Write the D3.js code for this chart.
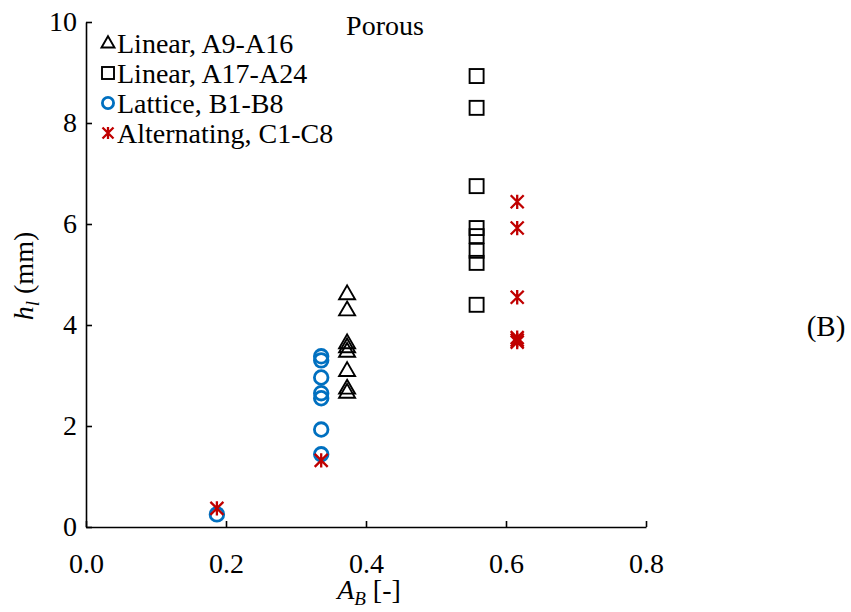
<!DOCTYPE html>
<html>
<head>
<meta charset="utf-8">
<script src="https://cdn.jsdelivr.net/npm/d3@7"></script>
<style>
  body { margin: 0; background: #fff; }
  svg text { font-family: "Liberation Serif", "Times New Roman", serif; fill: #000; }
</style>
</head>
<body>
<svg id="chart" width="851" height="612"></svg>
<script>
// Area ratio A_B and liquid height h_l (mm) per specimen group
const linearA9X = [0.373, 0.373, 0.373, 0.373, 0.373, 0.373, 0.373, 0.373];
const linearA9Y = [4.62, 4.30, 3.65, 3.57, 3.48, 3.10, 2.75, 2.67];

const linearA17X = [0.558, 0.558, 0.558, 0.558, 0.558, 0.558, 0.558, 0.558];
const linearA17Y = [8.93, 8.30, 6.75, 5.92, 5.76, 5.47, 5.23, 4.40];

const latticeX = [0.336, 0.336, 0.336, 0.336, 0.336, 0.336, 0.336, 0.187];
const latticeY = [3.38, 3.30, 2.96, 2.65, 2.55, 1.93, 1.44, 0.25];

const altX = [0.616, 0.616, 0.616, 0.616, 0.616, 0.616, 0.336, 0.187];
const altY = [6.44, 5.92, 4.55, 3.75, 3.70, 3.66, 1.32, 0.37];

const xTicks = [0.0, 0.2, 0.4, 0.6, 0.8];
const yTicks = [0, 2, 4, 6, 8, 10];

const legendLabels = ["Linear, A9-A16", "Linear, A17-A24", "Lattice, B1-B8", "Alternating, C1-C8"];

const FONT = "'Liberation Serif', 'Times New Roman', serif";
const svg = d3.select("#chart");
const x = d3.scaleLinear().domain([0, 0.8]).range([86, 646]);
const y = d3.scaleLinear().domain([0, 10]).range([527, 22]);

// Axes with inward ticks
const xAxis = d3.axisBottom(x).tickValues(xTicks).tickFormat(d3.format(".1f"))
  .tickSizeInner(-6).tickSizeOuter(0).tickPadding(26);
const yAxis = d3.axisLeft(y).tickValues(yTicks).tickFormat(d3.format("d"))
  .tickSizeInner(-6).tickSizeOuter(0).tickPadding(9);

const gx = svg.append("g").attr("transform", `translate(0,${y(0)})`).call(xAxis);
const gy = svg.append("g").attr("transform", `translate(${x(0)},0)`).call(yAxis);
[gx, gy].forEach(g => {
  g.attr("font-family", FONT).attr("font-size", 28);
  g.select(".domain").attr("stroke", "#000").attr("stroke-width", 1.6);
  g.selectAll(".tick line").attr("stroke", "#000").attr("stroke-width", 1.6);
  g.selectAll(".tick text").style("font-family", FONT).style("font-size", "28px").attr("fill", "#000");
});
// tick marks point into the plot
gy.selectAll(".tick line").attr("x2", 6);
gx.selectAll(".tick line").attr("y2", -6);

// Marker drawing helpers
const plot = svg.append("g");
function triangle(g, cx, cy, s) {
  const h = s * Math.sqrt(3) / 2;
  g.append("path")
    .attr("d", `M${cx},${cy - h * 0.6}L${cx + s / 2},${cy + h * 0.4}L${cx - s / 2},${cy + h * 0.4}Z`)
    .attr("fill", "none").attr("stroke", "#000").attr("stroke-width", 1.9).attr("stroke-linejoin", "miter");
}
function square(g, cx, cy, s) {
  g.append("rect").attr("x", cx - s / 2).attr("y", cy - s / 2).attr("width", s).attr("height", s)
    .attr("fill", "none").attr("stroke", "#000").attr("stroke-width", 1.9);
}
function circle(g, cx, cy, r) {
  g.append("circle").attr("cx", cx).attr("cy", cy).attr("r", r)
    .attr("fill", "none").attr("stroke", "#0070C0").attr("stroke-width", 2.8);
}
function star(g, cx, cy, s) {
  const a = s / 2;
  const d = `M${cx - a},${cy - a}L${cx + a},${cy + a}M${cx - a},${cy + a}L${cx + a},${cy - a}M${cx},${cy - a * 1.1}L${cx},${cy + a * 1.1}`;
  g.append("path").attr("d", d).attr("stroke", "#C00000").attr("stroke-width", 2.3).attr("fill", "none");
}

linearA9X.forEach((v, i) => triangle(plot, x(v), y(linearA9Y[i]), 16));
linearA17X.forEach((v, i) => square(plot, x(v), y(linearA17Y[i]), 14));
latticeX.forEach((v, i) => circle(plot, x(v), y(latticeY[i]), 6.8));
altX.forEach((v, i) => star(plot, x(v), y(altY[i]), 13));

// Legend
const legend = svg.append("g");
const markers = [
  (g, cx, cy) => triangle(g, cx, cy, 13),
  (g, cx, cy) => square(g, cx, cy, 12),
  (g, cx, cy) => circle(g, cx, cy, 5.6),
  (g, cx, cy) => star(g, cx, cy, 11)
];
legendLabels.forEach((lab, i) => {
  const cy = 43 + i * 30;
  markers[i](legend, 108, cy);
  legend.append("text").attr("x", 117).attr("y", cy).attr("dy", "0.35em")
    .style("font-size", "28px").text(lab);
});

// Title and panel annotation
svg.append("text").attr("x", 385).attr("y", 25).attr("dy", "0.35em").attr("text-anchor", "middle")
  .style("font-size", "28px").text("Porous");
svg.append("text").attr("x", 826).attr("y", 326).attr("dy", "0.35em").attr("text-anchor", "middle")
  .style("font-size", "29px").text("(B)");

// Axis titles
const xt = svg.append("text").attr("x", 369).attr("y", 599).attr("text-anchor", "middle").style("font-size", "28px");
xt.append("tspan").style("font-style", "italic").text("A");
xt.append("tspan").style("font-style", "italic").style("font-size", "19px").attr("dy", 6).text("B");
xt.append("tspan").attr("dy", -6).text(" [-]");

const yt = svg.append("text").attr("transform", "translate(33,276) rotate(-90)").attr("text-anchor", "middle").style("font-size", "28px");
yt.append("tspan").style("font-style", "italic").text("h");
yt.append("tspan").style("font-style", "italic").style("font-size", "19px").attr("dy", 6).text("l");
yt.append("tspan").attr("dy", -6).text(" (mm)");
</script>
</body>
</html>
